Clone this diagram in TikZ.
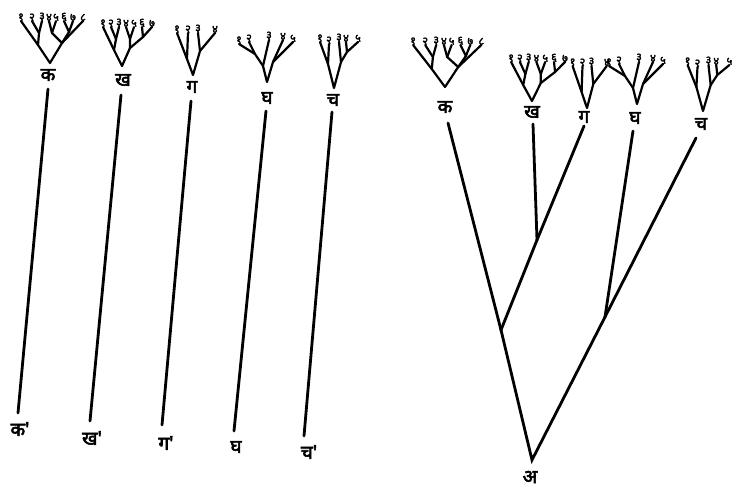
\documentclass[tikz,border=0pt]{standalone}
\usepackage{fontspec}
\newfontfamily\deva[Script=Devanagari,FakeBold=3]{Noto Sans}
\newfontfamily\devd[Script=Devanagari,FakeBold=2.5]{Noto Sans}
\tikzset{
  branch/.style={line width=2.2pt, line cap=round, line join=round},
  stem/.style={line width=2.8pt, line cap=round},
  dig/.style={font=\devd\fontsize{11}{11}\selectfont, inner sep=0pt, above=0pt},
  lab/.style={font=\deva\fontsize{19}{19}\selectfont, inner sep=0pt},
  pics/tree8/.style={code={
    \coordinate (-r) at (0,0);
    \coordinate (-a) at (-12,-18); \coordinate (-b) at (12,-20);
    \coordinate (-c) at (-11,-30); \coordinate (-d) at (2,-30); \coordinate (-e) at (19,-31);
    \coordinate (-l1) at (-29,-42); \coordinate (-l2) at (-18,-42);
    \coordinate (-l3) at (-8,-42); \coordinate (-l4) at (-1,-42);
    \coordinate (-l5) at (6,-42); \coordinate (-l6) at (14,-42);
    \coordinate (-l7) at (23,-42); \coordinate (-l8) at (33,-42);
    \draw[branch] (-l1) -- (-a) -- (-r) -- (-b) -- (-l8);
    \draw[branch] (-a) -- (-c) -- (-l2); \draw[branch] (-c) -- (-l3);
    \draw[branch] (-b) -- (-d) -- (-l4); \draw[branch] (-d) -- (-l5);
    \draw[branch] (-b) -- (-e) -- (-l6); \draw[branch] (-e) -- (-l7);
    \node[dig] (-n1) at (-l1) {१}; \node[dig] (-n2) at (-l2) {२};
    \node[dig] (-n3) at (-l3) {३}; \node[dig] (-n4) at (-l4) {४};
    \node[dig] (-n5) at (-l5) {५}; \node[dig] (-n6) at (-l6) {६};
    \node[dig] (-n7) at (-l7) {७}; \node[dig] (-n8) at (-l8) {८};
  }},
  pics/tree7/.style={code={
    \coordinate (-r) at (0,0);
    \coordinate (-a) at (-8,-16); \coordinate (-b) at (8,-18);
    \coordinate (-c) at (-6,-27); \coordinate (-d) at (8,-27); \coordinate (-e) at (21,-29);
    \coordinate (-l1) at (-19,-39); \coordinate (-l2) at (-11,-39);
    \coordinate (-l3) at (-3,-39); \coordinate (-l4) at (4,-39);
    \coordinate (-l5) at (12,-39); \coordinate (-l6) at (20,-39);
    \coordinate (-l7) at (30,-39);
    \draw[branch] (-l1) -- (-a) -- (-r) -- (-b) -- (-e) -- (-l7);
    \draw[branch] (-a) -- (-c) -- (-l2); \draw[branch] (-c) -- (-l3);
    \draw[branch] (-b) -- (-d) -- (-l4); \draw[branch] (-d) -- (-l5);
    \draw[branch] (-e) -- (-l6);
    \node[dig] (-n1) at (-l1) {१}; \node[dig] (-n2) at (-l2) {२};
    \node[dig] (-n3) at (-l3) {३}; \node[dig] (-n4) at (-l4) {४};
    \node[dig] (-n5) at (-l5) {५}; \node[dig] (-n6) at (-l6) {६};
    \node[dig] (-n7) at (-l7) {७};
  }},
  pics/tree4/.style={code={
    \coordinate (-r) at (0,0);
    \coordinate (-a) at (-6,-16); \coordinate (-b) at (7,-24);
    \coordinate (-l1) at (-16,-42); \coordinate (-l2) at (-5,-42);
    \coordinate (-l3) at (5,-42); \coordinate (-l4) at (22,-42);
    \draw[branch] (-l1) -- (-a) -- (-r) -- (-b) -- (-l4);
    \draw[branch] (-a) -- (-l2); \draw[branch] (-b) -- (-l3);
    \node[dig] (-n1) at (-l1) {१}; \node[dig] (-n2) at (-l2) {२};
    \node[dig] (-n3) at (-l3) {३}; \node[dig] (-n4) at (-l4) {४};
  }},
  pics/tree5a/.style={code={
    \coordinate (-r) at (0,0);
    \coordinate (-a) at (-4,-16); \coordinate (-b) at (6,-20);
    \coordinate (-c) at (-12,-28);
    \coordinate (-l1) at (-28,-38); \coordinate (-l2) at (-18,-40);
    \coordinate (-l3) at (2,-42); \coordinate (-l4) at (16,-42);
    \coordinate (-l5) at (26,-40);
    \draw[branch] (-l1) -- (-c) -- (-a) -- (-r) -- (-b) -- (-l5);
    \draw[branch] (-c) -- (-l2); \draw[branch] (-a) -- (-l3);
    \draw[branch] (-b) -- (-l4);
    \node[dig] (-n1) at (-l1) {१}; \node[dig] (-n2) at (-l2) {२};
    \node[dig] (-n3) at (-l3) {३}; \node[dig] (-n4) at (-l4) {४};
    \node[dig] (-n5) at (-l5) {५};
  }},
  pics/tree5b/.style={code={
    \coordinate (-r) at (0,0);
    \coordinate (-a) at (-6,-24); \coordinate (-b) at (7,-26);
    \coordinate (-c) at (13,-36);
    \coordinate (-l1) at (-14,-46); \coordinate (-l2) at (-5,-44);
    \coordinate (-l3) at (5,-46); \coordinate (-l4) at (12,-46);
    \coordinate (-l5) at (24,-46);
    \draw[branch] (-l1) -- (-a) -- (-r) -- (-b) -- (-c) -- (-l5);
    \draw[branch] (-a) -- (-l2); \draw[branch] (-b) -- (-l3);
    \draw[branch] (-c) -- (-l4);
    \node[dig] (-n1) at (-l1) {१}; \node[dig] (-n2) at (-l2) {२};
    \node[dig] (-n3) at (-l3) {३}; \node[dig] (-n4) at (-l4) {४};
    \node[dig] (-n5) at (-l5) {५};
  }},
}
\begin{document}
\begin{tikzpicture}[x=1pt,y=-1pt]
\fill[white] (0,0) rectangle (737,490);
\useasboundingbox (0,0) rectangle (737,490);

% ---------- left group: trees ----------
\pic (tk1) at (50,63) {tree8};
\pic (tk2) at (122,66) {tree7};
\pic (tk3) at (193,75) {tree4};
\pic (tk4) at (267,82) {tree5a};
\pic (tk5) at (334,88) {tree5b};

% top labels
\node[lab] (k1) at (48,75) {क};
\node[lab] (k2) at (123,80) {ख};
\node[lab] (k3) at (192,87) {ग};
\node[lab] (k4) at (267,98) {घ};
\node[lab] (k5) at (333,100) {च};

% bottom labels
\node[lab] (b1) at (20,429) {क'};
\node[lab] (b2) at (92,438) {ख'};
\node[lab] (b3) at (166,443) {ग'};
\node[lab] (b4) at (236,447) {घ};
\node[lab] (b5) at (309,452) {च'};

% stem ends
\coordinate (s1t) at (48,89);  \coordinate (s1b) at (18,413);
\coordinate (s2t) at (121,95); \coordinate (s2b) at (90,421);
\coordinate (s3t) at (191,101); \coordinate (s3b) at (162,425);
\coordinate (s4t) at (266,111); \coordinate (s4b) at (234,431);
\coordinate (s5t) at (332,112); \coordinate (s5b) at (304,436);
\draw[stem] (s1t) -- (s1b);
\draw[stem] (s2t) -- (s2b);
\draw[stem] (s3t) -- (s3b);
\draw[stem] (s4t) -- (s4b);
\draw[stem] (s5t) -- (s5b);

% ---------- right group: trees ----------
\pic[xscale=1.1] (rk1) at (445,87) {tree8};
\pic[xscale=1.1] (rk2) at (532,101) {tree7};
\pic[xscale=0.9] (rk3) at (587,108) {tree4};
\pic (rk4) at (637,104) {tree5a};
\pic[xscale=1.1] (rk5) at (703,111) {tree5b};

\node[lab] (r1) at (445,107) {क};
\node[lab] (r2) at (532,112) {ख};
\node[lab] (r3) at (584,117) {ग};
\node[lab] (r4) at (635,118) {घ};
\node[lab] (r5) at (701,124) {च};
\node[lab] (root) at (530,477) {अ};

\coordinate (t1) at (448,123);
\coordinate (t2) at (533,124);
\coordinate (t3) at (584,126);
\coordinate (t4) at (633,131);
\coordinate (t5) at (696,138);
\coordinate (j1) at (537,240);
\coordinate (j2) at (501,330);
\coordinate (j3) at (605,317);
\coordinate (j0) at (532,460);

\draw[stem] (t1) -- (j2);
\draw[stem] (t2) -- (j1);
\draw[stem] (t3) -- (j1);
\draw[stem] (j1) -- (j2);
\draw[stem] (t4) -- (j3);
\draw[stem] (t5) -- (j3);
\draw[stem, line join=miter] (j2) -- (j0) -- (j3);
\end{tikzpicture}
\end{document}
